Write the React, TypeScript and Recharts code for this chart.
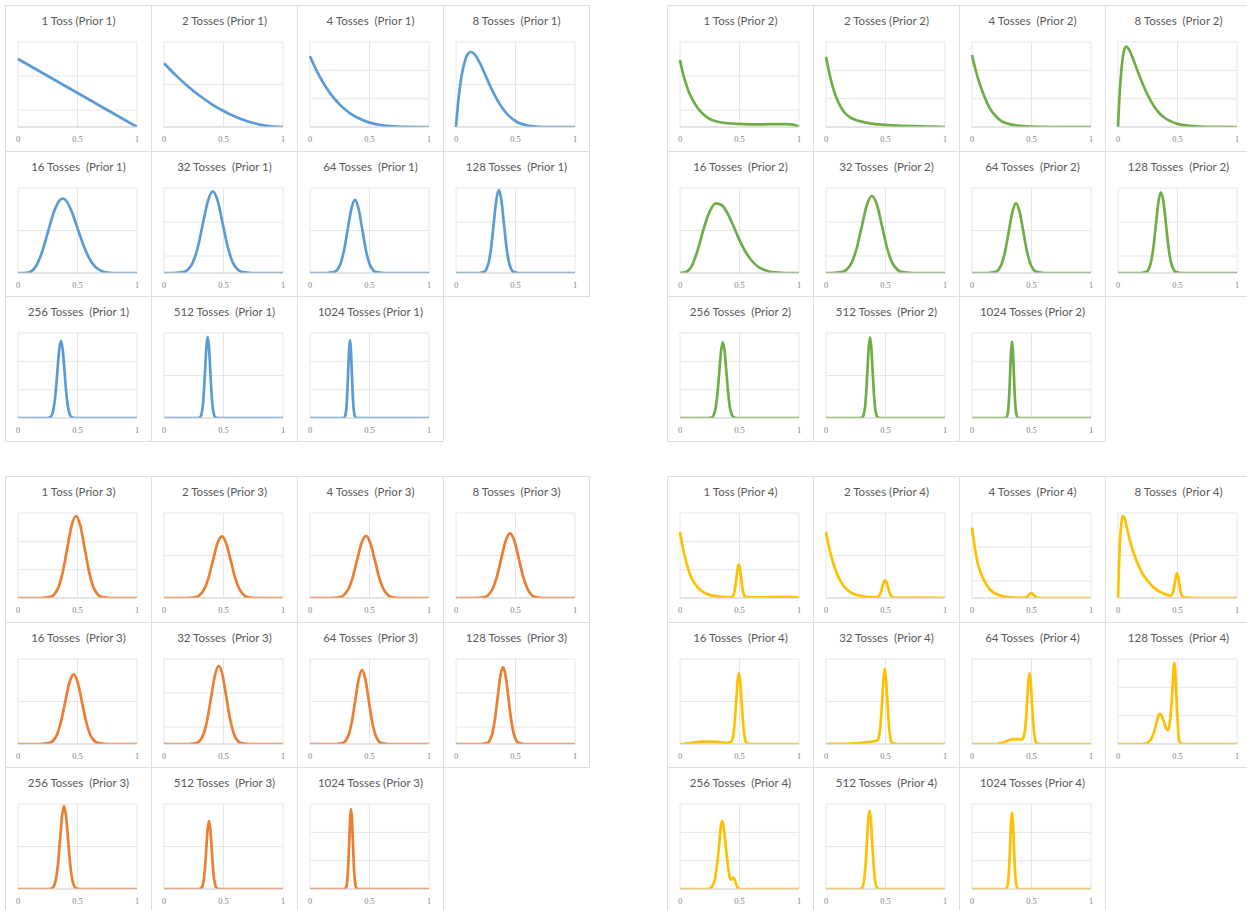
import React from 'react';
import { LineChart, Line, XAxis, YAxis, CartesianGrid } from 'recharts';

// ---------- tick labels ----------
const xTicks = [0, 0.5, 1];

// ---------- titles ----------
const prior1Titles = ['1 Toss (Prior 1)', '2 Tosses (Prior 1)', '4 Tosses  (Prior 1)', '8 Tosses  (Prior 1)', '16 Tosses  (Prior 1)', '32 Tosses  (Prior 1)', '64 Tosses  (Prior 1)', '128 Tosses  (Prior 1)', '256 Tosses  (Prior 1)', '512 Tosses  (Prior 1)', '1024 Tosses (Prior 1)'];
const prior2Titles = ['1 Toss (Prior 2)', '2 Tosses (Prior 2)', '4 Tosses  (Prior 2)', '8 Tosses  (Prior 2)', '16 Tosses  (Prior 2)', '32 Tosses  (Prior 2)', '64 Tosses  (Prior 2)', '128 Tosses  (Prior 2)', '256 Tosses  (Prior 2)', '512 Tosses  (Prior 2)', '1024 Tosses (Prior 2)'];
const prior3Titles = ['1 Toss (Prior 3)', '2 Tosses (Prior 3)', '4 Tosses  (Prior 3)', '8 Tosses  (Prior 3)', '16 Tosses  (Prior 3)', '32 Tosses  (Prior 3)', '64 Tosses  (Prior 3)', '128 Tosses  (Prior 3)', '256 Tosses  (Prior 3)', '512 Tosses  (Prior 3)', '1024 Tosses (Prior 3)'];
const prior4Titles = ['1 Toss (Prior 4)', '2 Tosses (Prior 4)', '4 Tosses  (Prior 4)', '8 Tosses  (Prior 4)', '16 Tosses  (Prior 4)', '32 Tosses  (Prior 4)', '64 Tosses  (Prior 4)', '128 Tosses  (Prior 4)', '256 Tosses  (Prior 4)', '512 Tosses  (Prior 4)', '1024 Tosses (Prior 4)'];

// ---------- number of horizontal grid intervals per chart ----------
const prior1Grid = [5, 4, 6, 4, 4, 5, 4, 5, 3, 4, 6];
const prior2Grid = [5, 6, 3, 6, 4, 5, 4, 5, 3, 4, 6];
const prior3Grid = [6, 4, 4, 4, 4, 5, 4, 5, 4, 4, 6];
const prior4Grid = [3, 4, 5, 4, 4, 4, 4, 6, 3, 4, 6];

// ---------- Prior 1 (blue) curves: [x, density in grid units] ----------
const b1 = [[0, 4], [1, 0]];
const b2 = [[0, 3], [0.1, 2.43], [0.2, 1.92], [0.3, 1.47], [0.4, 1.08], [0.5, 0.75], [0.6, 0.48], [0.7, 0.27], [0.8, 0.12], [0.9, 0.03], [1, 0]];
const b4 = [[0, 5], [0.05, 4.07], [0.1, 3.28], [0.15, 2.61], [0.2, 2.05], [0.25, 1.58], [0.3, 1.2], [0.35, 0.89], [0.4, 0.65], [0.5, 0.31], [0.6, 0.13], [0.7, 0.04], [0.8, 0.01], [0.9, 0], [1, 0]];
const b8 = [[0, 0], [0.02, 1.25], [0.05, 2.51], [0.075, 3.1], [0.1, 3.44], [0.125, 3.53], [0.15, 3.46], [0.2, 3.02], [0.25, 2.4], [0.3, 1.78], [0.35, 1.24], [0.4, 0.81], [0.45, 0.5], [0.5, 0.28], [0.6, 0.07], [0.7, 0.01], [0.8, 0], [1, 0]];
const b16 = [[0, 0], [0.05, 0], [0.1, 0.05], [0.15, 0.31], [0.2, 0.95], [0.25, 1.9], [0.3, 2.85], [0.35, 3.42], [0.375, 3.5], [0.4, 3.43], [0.45, 2.91], [0.5, 2.11], [0.55, 1.31], [0.6, 0.68], [0.65, 0.29], [0.7, 0.1], [0.75, 0.02], [0.8, 0], [1, 0]];
const b32 = [[0, 0], [0.078, 0], [0.161, 0.05], [0.203, 0.21], [0.244, 0.65], [0.286, 1.56], [0.327, 2.91], [0.369, 4.23], [0.41, 4.8], [0.452, 4.23], [0.493, 2.91], [0.535, 1.56], [0.576, 0.65], [0.618, 0.21], [0.659, 0.05], [0.742, 0], [1, 0]];
const b64 = [[0, 0], [0.138, 0], [0.198, 0.04], [0.228, 0.15], [0.258, 0.46], [0.288, 1.12], [0.318, 2.09], [0.348, 3.03], [0.378, 3.44], [0.408, 3.03], [0.438, 2.09], [0.468, 1.12], [0.498, 0.46], [0.528, 0.15], [0.558, 0.04], [0.618, 0], [1, 0]];
const b128 = [[0, 0], [0.192, 0], [0.234, 0.05], [0.255, 0.22], [0.276, 0.66], [0.297, 1.59], [0.318, 2.96], [0.339, 4.3], [0.36, 4.88], [0.381, 4.3], [0.402, 2.96], [0.423, 1.59], [0.444, 0.66], [0.465, 0.22], [0.486, 0.05], [0.528, 0], [1, 0]];
const b256 = [[0, 0], [0.241, 0], [0.271, 0.03], [0.286, 0.12], [0.301, 0.37], [0.316, 0.88], [0.331, 1.65], [0.346, 2.4], [0.361, 2.72], [0.376, 2.4], [0.391, 1.65], [0.406, 0.88], [0.421, 0.37], [0.436, 0.12], [0.451, 0.03], [0.481, 0], [1, 0]];
const b512 = [[0, 0], [0.283, 0], [0.304, 0.04], [0.3145, 0.17], [0.325, 0.52], [0.3355, 1.24], [0.346, 2.32], [0.3565, 3.37], [0.367, 3.82], [0.3775, 3.37], [0.388, 2.32], [0.3985, 1.24], [0.409, 0.52], [0.4195, 0.17], [0.43, 0.04], [0.451, 0], [1, 0]];
const b1024 = [[0, 0], [0.276, 0], [0.291, 0.06], [0.2985, 0.24], [0.306, 0.74], [0.3135, 1.79], [0.321, 3.34], [0.3285, 4.85], [0.336, 5.5], [0.3435, 4.85], [0.351, 3.34], [0.3585, 1.79], [0.366, 0.74], [0.3735, 0.24], [0.381, 0.06], [0.396, 0], [1, 0]];

// ---------- Prior 2 (green) ----------
const g1 = [[0, 3.94], [0.025, 3.15], [0.05, 2.55], [0.075, 2.05], [0.1, 1.68], [0.15, 1.1], [0.2, 0.72], [0.25, 0.47], [0.3, 0.34], [0.4, 0.22], [0.5, 0.18], [0.6, 0.16], [0.7, 0.16], [0.8, 0.17], [0.9, 0.17], [0.95, 0.14], [1, 0]];
const g2 = [[0, 4.96], [0.025, 3.9], [0.05, 3.05], [0.075, 2.35], [0.1, 1.82], [0.15, 1.08], [0.2, 0.7], [0.25, 0.5], [0.3, 0.38], [0.4, 0.22], [0.5, 0.15], [0.6, 0.1], [0.7, 0.07], [0.8, 0.05], [0.9, 0.02], [1, 0]];
const g4 = [[0, 2.54], [0.025, 2.1], [0.05, 1.72], [0.075, 1.4], [0.1, 1.12], [0.15, 0.66], [0.2, 0.38], [0.25, 0.2], [0.3, 0.12], [0.4, 0.04], [0.5, 0.015], [0.6, 0.005], [0.7, 0], [1, 0]];
const g8 = [[0, 0], [0.01, 1.8], [0.025, 3.7], [0.04, 4.9], [0.055, 5.5], [0.07, 5.67], [0.09, 5.5], [0.12, 4.95], [0.16, 4.05], [0.2, 3.2], [0.25, 2.25], [0.3, 1.5], [0.35, 0.95], [0.4, 0.6], [0.45, 0.38], [0.5, 0.22], [0.6, 0.08], [0.7, 0.03], [0.8, 0.01], [1, 0]];
const g16 = [[0, 0], [0.05, 0.05], [0.1, 0.35], [0.15, 1.1], [0.2, 2.1], [0.25, 2.9], [0.3, 3.28], [0.35, 3.2], [0.4, 2.8], [0.45, 2.2], [0.5, 1.55], [0.55, 1.0], [0.6, 0.6], [0.65, 0.32], [0.7, 0.16], [0.75, 0.07], [0.8, 0.03], [0.9, 0], [1, 0]];
const g32 = [[0, 0], [0.046, 0], [0.131, 0.05], [0.1735, 0.2], [0.216, 0.61], [0.2585, 1.47], [0.301, 2.75], [0.3435, 4.0], [0.386, 4.53], [0.4285, 4.0], [0.471, 2.75], [0.5135, 1.47], [0.556, 0.61], [0.5985, 0.2], [0.641, 0.05], [0.726, 0], [1, 0]];
const g64 = [[0, 0], [0.13, 0], [0.19, 0.04], [0.22, 0.14], [0.25, 0.44], [0.28, 1.07], [0.31, 1.99], [0.34, 2.89], [0.37, 3.28], [0.4, 2.89], [0.43, 1.99], [0.46, 1.07], [0.49, 0.44], [0.52, 0.14], [0.55, 0.04], [0.61, 0], [1, 0]];
const g128 = [[0, 0], [0.193, 0], [0.235, 0.05], [0.256, 0.21], [0.277, 0.64], [0.298, 1.54], [0.319, 2.88], [0.34, 4.19], [0.361, 4.75], [0.382, 4.19], [0.403, 2.88], [0.424, 1.54], [0.445, 0.64], [0.466, 0.21], [0.487, 0.05], [0.529, 0], [1, 0]];
const g256 = [[0, 0], [0.24, 0], [0.27, 0.03], [0.285, 0.12], [0.3, 0.36], [0.315, 0.87], [0.33, 1.62], [0.345, 2.36], [0.36, 2.67], [0.375, 2.36], [0.39, 1.62], [0.405, 0.87], [0.42, 0.36], [0.435, 0.12], [0.45, 0.03], [0.48, 0], [1, 0]];
const g512 = [[0, 0], [0.286, 0], [0.307, 0.04], [0.3175, 0.17], [0.328, 0.51], [0.3385, 1.24], [0.349, 2.31], [0.3595, 3.35], [0.37, 3.8], [0.3805, 3.35], [0.391, 2.31], [0.4015, 1.24], [0.412, 0.51], [0.4225, 0.17], [0.433, 0.04], [0.454, 0], [1, 0]];
const g1024 = [[0, 0], [0.276, 0], [0.291, 0.06], [0.2985, 0.24], [0.306, 0.73], [0.3135, 1.76], [0.321, 3.28], [0.3285, 4.76], [0.336, 5.4], [0.3435, 4.76], [0.351, 3.28], [0.3585, 1.76], [0.366, 0.73], [0.3735, 0.24], [0.381, 0.06], [0.396, 0], [1, 0]];

// ---------- Prior 3 (orange) ----------
const o1 = [[0, 0], [0.195, 0], [0.268, 0.06], [0.3045, 0.26], [0.341, 0.78], [0.3775, 1.88], [0.414, 3.52], [0.4505, 5.11], [0.487, 5.79], [0.5235, 5.11], [0.56, 3.52], [0.5965, 1.88], [0.633, 0.78], [0.6695, 0.26], [0.706, 0.06], [0.779, 0], [1, 0]];
const o2 = [[0, 0], [0.186, 0], [0.261, 0.03], [0.2985, 0.13], [0.336, 0.39], [0.3735, 0.94], [0.411, 1.76], [0.4485, 2.56], [0.486, 2.9], [0.5235, 2.56], [0.561, 1.76], [0.5985, 0.94], [0.636, 0.39], [0.6735, 0.13], [0.711, 0.03], [0.786, 0], [1, 0]];
const o4 = [[0, 0], [0.17, 0], [0.245, 0.03], [0.2825, 0.13], [0.32, 0.39], [0.3575, 0.95], [0.395, 1.77], [0.4325, 2.58], [0.47, 2.92], [0.5075, 2.58], [0.545, 1.77], [0.5825, 0.95], [0.62, 0.39], [0.6575, 0.13], [0.695, 0.03], [0.77, 0], [1, 0]];
const o8 = [[0, 0], [0.158, 0], [0.232, 0.03], [0.269, 0.13], [0.306, 0.41], [0.343, 0.99], [0.38, 1.85], [0.417, 2.68], [0.454, 3.04], [0.491, 2.68], [0.528, 1.85], [0.565, 0.99], [0.602, 0.41], [0.639, 0.13], [0.676, 0.03], [0.75, 0], [1, 0]];
const o16 = [[0, 0], [0.187, 0], [0.257, 0.04], [0.292, 0.14], [0.327, 0.44], [0.362, 1.07], [0.397, 1.99], [0.432, 2.89], [0.467, 3.28], [0.502, 2.89], [0.537, 1.99], [0.572, 1.07], [0.607, 0.44], [0.642, 0.14], [0.677, 0.04], [0.747, 0], [1, 0]];
const o32 = [[0, 0], [0.208, 0], [0.271, 0.05], [0.3025, 0.2], [0.334, 0.62], [0.3655, 1.5], [0.397, 2.79], [0.4285, 4.06], [0.46, 4.6], [0.4915, 4.06], [0.523, 2.79], [0.5545, 1.5], [0.586, 0.62], [0.6175, 0.2], [0.649, 0.05], [0.712, 0], [1, 0]];
const o64 = [[0, 0], [0.217, 0], [0.272, 0.04], [0.2995, 0.15], [0.327, 0.47], [0.3545, 1.13], [0.382, 2.11], [0.4095, 3.07], [0.437, 3.48], [0.4645, 3.07], [0.492, 2.11], [0.5195, 1.13], [0.547, 0.47], [0.5745, 0.15], [0.602, 0.04], [0.657, 0], [1, 0]];
const o128 = [[0, 0], [0.215, 0], [0.26, 0.05], [0.2825, 0.2], [0.305, 0.61], [0.3275, 1.47], [0.35, 2.74], [0.3725, 3.99], [0.395, 4.52], [0.4175, 3.99], [0.44, 2.74], [0.4625, 1.47], [0.485, 0.61], [0.5075, 0.2], [0.53, 0.05], [0.575, 0], [1, 0]];
const o256 = [[0, 0], [0.255, 0], [0.288, 0.04], [0.3045, 0.17], [0.321, 0.53], [0.3375, 1.27], [0.354, 2.37], [0.3705, 3.44], [0.387, 3.9], [0.4035, 3.44], [0.42, 2.37], [0.4365, 1.27], [0.453, 0.53], [0.4695, 0.17], [0.486, 0.04], [0.519, 0], [1, 0]];
const o512 = [[0, 0], [0.29, 0], [0.312, 0.04], [0.323, 0.14], [0.334, 0.43], [0.345, 1.04], [0.356, 1.94], [0.367, 2.82], [0.378, 3.2], [0.389, 2.82], [0.4, 1.94], [0.411, 1.04], [0.422, 0.43], [0.433, 0.14], [0.444, 0.04], [0.466, 0], [1, 0]];
const o1024 = [[0, 0], [0.285, 0], [0.3, 0.06], [0.3075, 0.25], [0.315, 0.76], [0.3225, 1.83], [0.33, 3.42], [0.3375, 4.97], [0.345, 5.64], [0.3525, 4.97], [0.36, 3.42], [0.3675, 1.83], [0.375, 0.76], [0.3825, 0.25], [0.39, 0.06], [0.405, 0], [1, 0]];

// ---------- Prior 4 (yellow) ----------
const y1 = [[0, 2.33], [0.025, 1.75], [0.05, 1.31], [0.075, 0.95], [0.1, 0.68], [0.15, 0.37], [0.2, 0.2], [0.25, 0.11], [0.3, 0.065], [0.35, 0.045], [0.4, 0.035], [0.437, 0.043], [0.4465, 0.08], [0.456, 0.19], [0.4655, 0.41], [0.475, 0.73], [0.4845, 1.05], [0.494, 1.19], [0.5035, 1.05], [0.513, 0.73], [0.5225, 0.41], [0.532, 0.19], [0.5415, 0.08], [0.551, 0.04], [0.6, 0.025], [0.7, 0.025], [0.8, 0.03], [0.9, 0.035], [0.96, 0.03], [1, 0]];
const y2 = [[0, 3.1], [0.025, 2.4], [0.05, 1.85], [0.075, 1.4], [0.1, 1.05], [0.15, 0.55], [0.2, 0.29], [0.25, 0.16], [0.3, 0.09], [0.35, 0.05], [0.4, 0.03], [0.425, 0.03], [0.437, 0.05], [0.449, 0.12], [0.461, 0.28], [0.473, 0.51], [0.485, 0.74], [0.497, 0.84], [0.509, 0.74], [0.521, 0.51], [0.533, 0.28], [0.545, 0.12], [0.557, 0.04], [0.569, 0.015], [0.65, 0.01], [0.8, 0.005], [1, 0]];
const y4 = [[0, 4.14], [0.025, 2.9], [0.05, 2.0], [0.075, 1.45], [0.1, 1.05], [0.15, 0.5], [0.2, 0.25], [0.25, 0.12], [0.3, 0.06], [0.35, 0.03], [0.4, 0.015], [0.438, 0.01], [0.458, 0.045], [0.468, 0.1], [0.478, 0.18], [0.488, 0.26], [0.498, 0.29], [0.508, 0.26], [0.518, 0.18], [0.528, 0.1], [0.538, 0.045], [0.558, 0.005], [0.6, 0], [1, 0]];
const y8 = [[0, 0], [0.008, 1.5], [0.015, 2.5], [0.025, 3.3], [0.035, 3.75], [0.042, 3.86], [0.055, 3.75], [0.075, 3.3], [0.1, 2.7], [0.13, 2.15], [0.16, 1.7], [0.2, 1.2], [0.25, 0.8], [0.3, 0.5], [0.35, 0.3], [0.4, 0.17], [0.442, 0.11], [0.451, 0.14], [0.46, 0.24], [0.469, 0.44], [0.478, 0.74], [0.487, 1.03], [0.496, 1.16], [0.505, 1.02], [0.514, 0.71], [0.523, 0.39], [0.532, 0.18], [0.541, 0.07], [0.55, 0.03], [0.6, 0.01], [0.7, 0], [1, 0]];
const y16 = [[0, 0], [0.05, 0.02], [0.1, 0.06], [0.15, 0.09], [0.2, 0.11], [0.25, 0.11], [0.3, 0.1], [0.35, 0.08], [0.4, 0.06], [0.4275, 0.09], [0.439, 0.2], [0.45, 0.5], [0.461, 1.12], [0.4725, 2.05], [0.484, 2.95], [0.495, 3.34], [0.506, 2.94], [0.5175, 2.01], [0.529, 1.08], [0.54, 0.45], [0.551, 0.15], [0.5625, 0.04], [0.6, 0], [1, 0]];
const y32 = [[0, 0], [0.1, 0.005], [0.2, 0.02], [0.3, 0.06], [0.35, 0.09], [0.4, 0.12], [0.431, 0.17], [0.4415, 0.28], [0.452, 0.58], [0.4625, 1.22], [0.473, 2.17], [0.4835, 3.1], [0.494, 3.54], [0.5045, 3.05], [0.515, 2.1], [0.5255, 1.13], [0.536, 0.47], [0.5465, 0.15], [0.557, 0.04], [0.6, 0], [1, 0]];
const y64 = [[0, 0], [0.2, 0], [0.25, 0.04], [0.3, 0.15], [0.35, 0.23], [0.4, 0.22], [0.424, 0.23], [0.434, 0.33], [0.444, 0.6], [0.454, 1.2], [0.464, 2.09], [0.474, 2.95], [0.484, 3.34], [0.494, 2.87], [0.504, 1.96], [0.514, 1.05], [0.524, 0.44], [0.534, 0.14], [0.544, 0.035], [0.58, 0], [1, 0]];
const y128 = [[0, 0], [0.2, 0], [0.235, 0.03], [0.26, 0.15], [0.29, 0.55], [0.31, 1.05], [0.33, 1.7], [0.349, 2.13], [0.365, 2.02], [0.38, 1.7], [0.395, 1.3], [0.408, 1.05], [0.42, 0.97], [0.435, 1.5], [0.445, 2.3], [0.455, 3.5], [0.464, 4.8], [0.472, 5.72], [0.48, 5.3], [0.489, 3.6], [0.497, 2.2], [0.506, 0.9], [0.515, 0.3], [0.523, 0.08], [0.535, 0.01], [0.56, 0], [1, 0]];
const y256 = [[0, 0], [0.2, 0], [0.24, 0.01], [0.27, 0.1], [0.29, 0.3], [0.31, 0.8], [0.33, 1.6], [0.345, 2.25], [0.353, 2.4], [0.362, 2.3], [0.375, 1.9], [0.39, 1.3], [0.405, 0.75], [0.418, 0.42], [0.428, 0.33], [0.44, 0.38], [0.45, 0.4], [0.46, 0.33], [0.472, 0.17], [0.485, 0.05], [0.5, 0.01], [0.52, 0], [1, 0]];
const y512 = [[0, 0], [0.278, 0], [0.3, 0.04], [0.311, 0.16], [0.322, 0.5], [0.333, 1.2], [0.344, 2.24], [0.355, 3.26], [0.366, 3.69], [0.377, 3.26], [0.388, 2.24], [0.399, 1.2], [0.41, 0.5], [0.421, 0.16], [0.432, 0.04], [0.454, 0], [1, 0]];
const y1024 = [[0, 0], [0.276, 0], [0.291, 0.06], [0.2985, 0.24], [0.306, 0.73], [0.3135, 1.75], [0.321, 3.27], [0.3285, 4.75], [0.336, 5.39], [0.3435, 4.75], [0.351, 3.27], [0.3585, 1.75], [0.366, 0.73], [0.3735, 0.24], [0.381, 0.06], [0.396, 0], [1, 0]];

const prior1Curves = [b1, b2, b4, b8, b16, b32, b64, b128, b256, b512, b1024];
const prior2Curves = [g1, g2, g4, g8, g16, g32, g64, g128, g256, g512, g1024];
const prior3Curves = [o1, o2, o4, o8, o16, o32, o64, o128, o256, o512, o1024];
const prior4Curves = [y1, y2, y4, y8, y16, y32, y64, y128, y256, y512, y1024];

const groups = [
  { left: 5, top: 5, color: '#5B9BD5', titles: prior1Titles, curves: prior1Curves, grids: prior1Grid },
  { left: 667, top: 5, color: '#70AD47', titles: prior2Titles, curves: prior2Curves, grids: prior2Grid },
  { left: 5, top: 476, color: '#ED7D31', titles: prior3Titles, curves: prior3Curves, grids: prior3Grid },
  { left: 667, top: 476, color: '#FFC000', titles: prior4Titles, curves: prior4Curves, grids: prior4Grid },
];

const colOffsets = [0, 146, 292, 438, 584];
const rowOffsets = [0, 146, 291, 436];

const CHART_W = 146;
const CHART_H = 145;

function TickLabel(props: any) {
  const { x, y, payload } = props;
  return (
    <text x={x} y={y} dy={8} textAnchor="middle" fill="#7f7f7f" stroke="none" fontSize={8.5} opacity={0.99} fontFamily='"Liberation Serif", serif'>
      {String(payload.value)}
    </text>
  );
}

type CellProps = { x: number; y: number; w: number; h: number; title: string; curve: number[][]; n: number; color: string };

function Cell({ x, y, w, h, title, curve, n, color }: CellProps) {
  const data = curve.map(([px, py]) => ({ x: px, y: py }));
  const yTicks = Array.from({ length: n + 1 }, (_, i) => i);
  return (
    <div style={{ position: 'absolute', left: x, top: y, width: w, height: h, border: '1px solid #dedede', boxSizing: 'border-box' }}>
      <div style={{ position: 'absolute', left: -1, top: 7, width: w, textAlign: 'center', fontFamily: 'Lato, "Open Sans", sans-serif', fontSize: 11.5, lineHeight: '16px', color: '#595959', whiteSpace: 'pre' }}>
        {title}
      </div>
      <div style={{ position: 'absolute', left: -1, top: -1 }}>
        <LineChart width={CHART_W} height={CHART_H} data={data} margin={{ top: 37, right: 14, bottom: 0, left: 13 }}>
          <CartesianGrid stroke="#e6e6e6" strokeWidth={1} />
          <XAxis
            dataKey="x"
            type="number"
            domain={[0, 1]}
            ticks={xTicks}
            interval={0}
            height={23}
            tickLine={false}
            axisLine={{ stroke: '#d4d4d4' }}
            tickMargin={1}
            tick={<TickLabel />}
          />
          <YAxis hide type="number" domain={[0, n]} ticks={yTicks} allowDataOverflow />
          <Line dataKey="y" type="monotone" stroke={color} strokeWidth={2.7} dot={false} isAnimationActive={false} />
        </LineChart>
      </div>
    </div>
  );
}

export default function App() {
  const cells: React.ReactNode[] = [];
  groups.forEach((g, gi) => {
    g.curves.forEach((curve, i) => {
      const r = Math.floor(i / 4);
      const c = i % 4;
      const x = g.left + colOffsets[c];
      const y = g.top + rowOffsets[r];
      const w = colOffsets[c + 1] - colOffsets[c] + 1;
      const h = rowOffsets[r + 1] - rowOffsets[r] + 1;
      cells.push(
        <Cell key={`${gi}-${i}`} x={x} y={y} w={w} h={h} title={g.titles[i]} curve={curve} n={g.grids[i]} color={g.color} />
      );
    });
  });
  return (
    <div style={{ position: 'absolute', left: 0, top: 0, width: 1247, height: 910, background: '#ffffff', overflow: 'hidden' }}>
      {cells}
    </div>
  );
}
